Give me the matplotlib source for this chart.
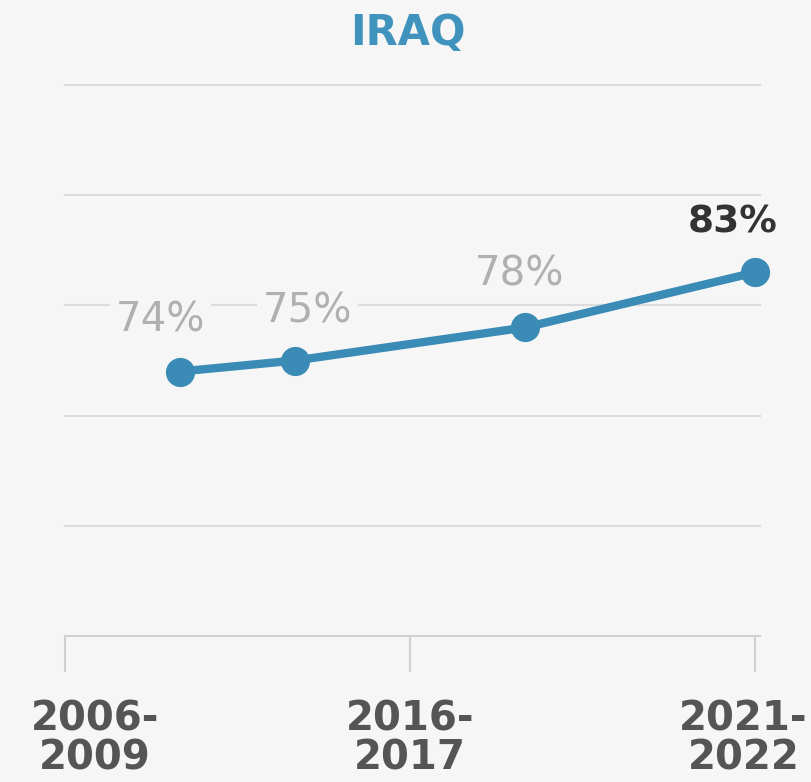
import matplotlib
matplotlib.use('Agg')
import matplotlib.pyplot as plt
import matplotlib.transforms as mtransforms

# Survey rounds placed on a category-like axis
x_pos = [1, 2, 4, 6]
values = [74, 75, 78, 83]
labels = ['74%', '75%', '78%', '83%']
tick_pos = [0, 3, 6]
tick_labels = ['2006-\n2009', '2016-\n2017', '2021-\n2022']

bg = '#f6f6f6'
blue = '#3a8bb5'

fig = plt.figure(figsize=(8.11, 7.82), dpi=100, facecolor=bg)
ax = fig.add_axes([65 / 811, (782 - 636) / 782, 695 / 811, 551 / 782])
ax.set_facecolor(bg)
ax.set_xlim(0, 6.04)
ax.set_ylim(50, 100)

# horizontal gridlines
for g in [60, 70, 80, 90, 100]:
    ax.axhline(g, color='#dcdcdc', lw=1.5, zorder=1, clip_on=False)

ax.plot(x_pos, values, color=blue, lw=6, marker='o', markersize=20,
        clip_on=False, zorder=3)

# value labels (last one highlighted)
offsets = [(-14, 37), (9, 35), (-4, 38), (-16, 36)]
for i, (x, v, t) in enumerate(zip(x_pos, values, labels)):
    last = i == len(values) - 1
    ax.annotate(t, (x, v), xytext=offsets[i], textcoords='offset points',
                ha='center', va='center', fontsize=29 if not last else 27,
                color='#333333' if last else '#b0b0b0',
                fontweight='bold' if last else 'normal',
                bbox=dict(facecolor=bg, edgecolor='none', pad=4),
                zorder=4, annotation_clip=False)

for s in ['top', 'right', 'left']:
    ax.spines[s].set_visible(False)
ax.spines['bottom'].set_color('#d0d0d0')
ax.spines['bottom'].set_linewidth(1.5)
ax.set_yticks([])
ax.set_xticks(tick_pos)
ax.set_xticklabels(tick_labels, fontsize=29, fontweight='bold', color='#555555',
                   linespacing=0.95)
ax.tick_params(axis='x', length=26, width=1.5, color='#d0d0d0', pad=20)

# nudge edge labels inward like the original
tl = ax.get_xticklabels()
tl[0].set_transform(tl[0].get_transform() +
                    mtransforms.ScaledTranslation(30 / 100, 0, fig.dpi_scale_trans))
tl[-1].set_transform(tl[-1].get_transform() +
                     mtransforms.ScaledTranslation(-12 / 100, 0, fig.dpi_scale_trans))

fig.text(408 / 811, 1 - 33 / 782, 'IRAQ', ha='center', va='center',
         fontsize=30, fontweight='bold', color='#3f93bd')

fig.savefig('out.png', dpi=100, facecolor=bg)
